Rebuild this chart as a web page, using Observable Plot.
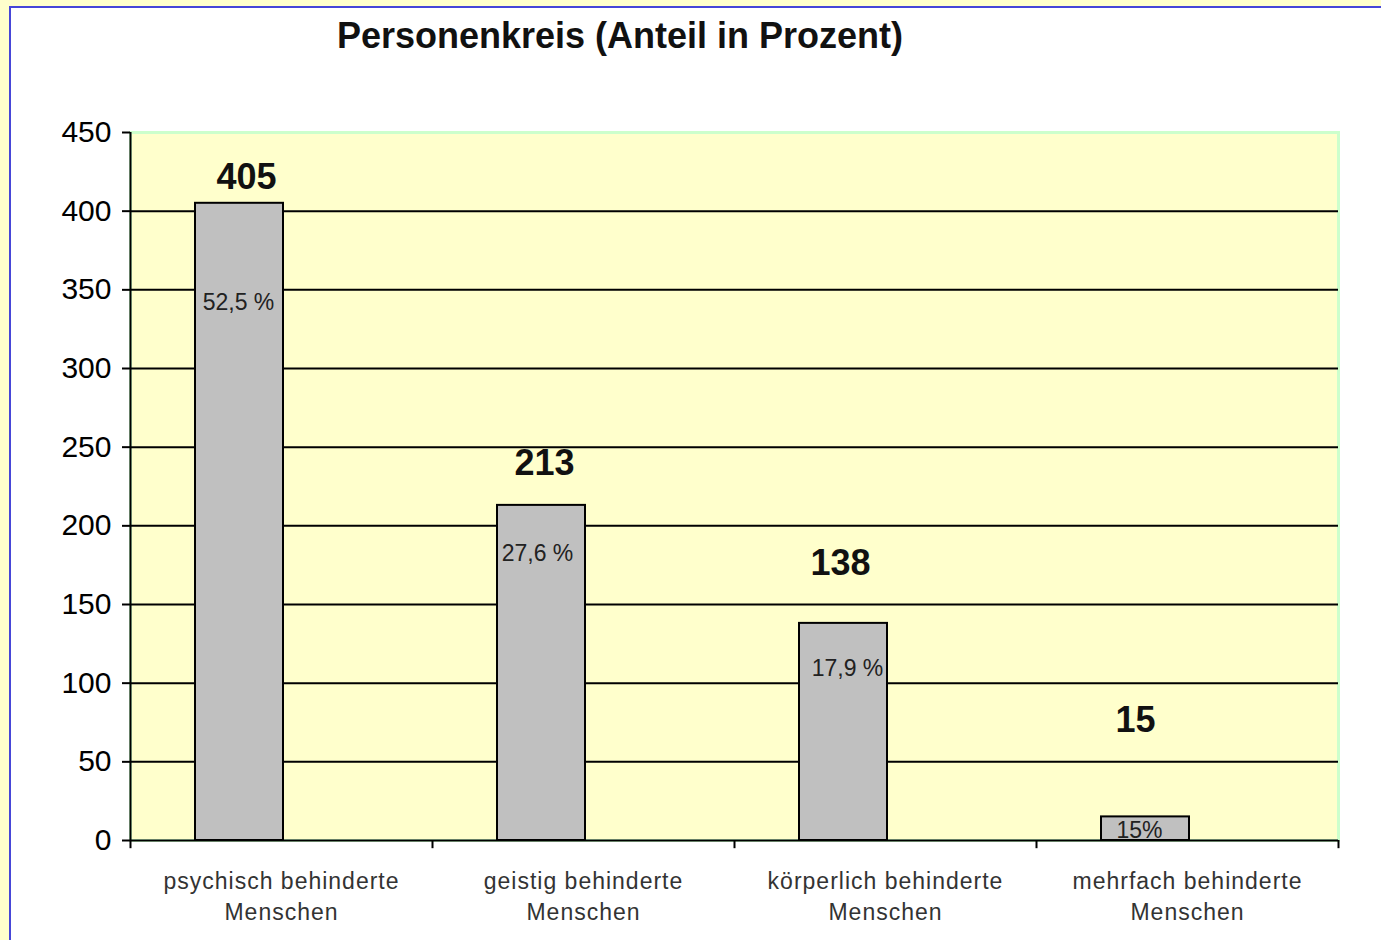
<!DOCTYPE html>
<html>
<head>
<meta charset="utf-8">
<script src="https://cdn.jsdelivr.net/npm/d3@7"></script>
<script src="https://cdn.jsdelivr.net/npm/@observablehq/plot@0.6"></script>
<style>
  html, body { margin: 0; padding: 0; width: 1381px; height: 940px; overflow: hidden; background: #ffffcc; font-family: "Liberation Sans", Arial, sans-serif; }
  #frame { position: absolute; left: 9px; top: 6px; width: 1400px; height: 1000px; background: #fff; border: 2px solid #4646d8; }
  #title { position: absolute; left: 0; top: 15px; width: 1240px; text-align: center; font-size: 36px; font-weight: bold; color: #111; }
  #chart { position: absolute; left: 0; top: 0; }
  #chart g[aria-label="x-axis tick label"] text { letter-spacing: 1px; }
</style>
</head>
<body>
<div id="frame"></div>
<div id="chart"></div>
<div id="title">Personenkreis (Anteil in Prozent)</div>
<script>
// data
const categories = ["psychisch behinderte Menschen", "geistig behinderte Menschen", "körperlich behinderte Menschen", "mehrfach behinderte Menschen"];
const counts = [405, 213, 138, 15];
const shares = ["52,5 %", "27,6 %", "17,9 %", "15%"];
const yTicks = [0, 50, 100, 150, 200, 250, 300, 350, 400, 450];

// layout offsets for the hand-placed labels (pixels)
const valueLabelDx = [-35, -39, -45, -52];
const valueLabelDy = [-26, -42, -60, -96];
const shareLabelDx = [-43, -46, -38, -48];
const shareLabelDy = [99, 48, 45, 14];

const rows = categories.map((c, i) => ({category: c, count: counts[i], share: shares[i]}));

const marks = [
  Plot.frame({fill: "#ffffcc"}),
  Plot.frame({stroke: "#ccffcc", strokeWidth: 3}),
  Plot.ruleY(yTicks.filter(t => t > 0 && t < 450), {stroke: "#000", strokeWidth: 2}),
  Plot.barY(rows, {x: "category", y: "count", fill: "#c0c0c0", stroke: "#000", strokeWidth: 2, insetLeft: 65, insetRight: 149}),
  Plot.ruleY([0], {stroke: "#000", strokeWidth: 2}),
  Plot.axisY({ticks: yTicks, tickSize: 8, tickPadding: 11, fontSize: 30, stroke: "#000", strokeWidth: 2, color: "#000", label: null}),
  Plot.axisX({tickSize: 0, tickPadding: 26, fontSize: 23, lineHeight: 1.37, color: "#333", label: null,
    tickFormat: d => d.replace(/ Menschen$/, "\nMenschen")}),
  Plot.ruleX(categories, {x: d => d, y1: 0, y2: -5.2, dx: -151, stroke: "#000", strokeWidth: 2}),
  Plot.ruleX([categories[categories.length - 1]], {x: d => d, y1: 0, y2: -5.2, dx: 151, stroke: "#000", strokeWidth: 2}),
  Plot.ruleX([categories[0]], {x: d => d, y1: 0, y2: 450, dx: -151, stroke: "#000", strokeWidth: 2})
];
rows.forEach((r, i) => {
  marks.push(Plot.text([r], {x: "category", y: "count", text: d => String(d.count), dx: valueLabelDx[i], dy: valueLabelDy[i], fontSize: 36, fontWeight: "bold", fill: "#111"}));
  marks.push(Plot.text([r], {x: "category", y: "count", text: "share", dx: shareLabelDx[i], dy: shareLabelDy[i], fontSize: 23, fill: "#222"}));
});

const chart = Plot.plot({
  width: 1381,
  height: 940,
  marginLeft: 130,
  marginRight: 43,
  marginTop: 132,
  marginBottom: 100,
  style: {background: "transparent", fontFamily: "'Liberation Sans', Arial, sans-serif", overflow: "visible"},
  x: {type: "band", domain: categories, padding: 0},
  y: {domain: [0, 450]},
  marks
});
document.getElementById("chart").appendChild(chart);
</script>
</body>
</html>
